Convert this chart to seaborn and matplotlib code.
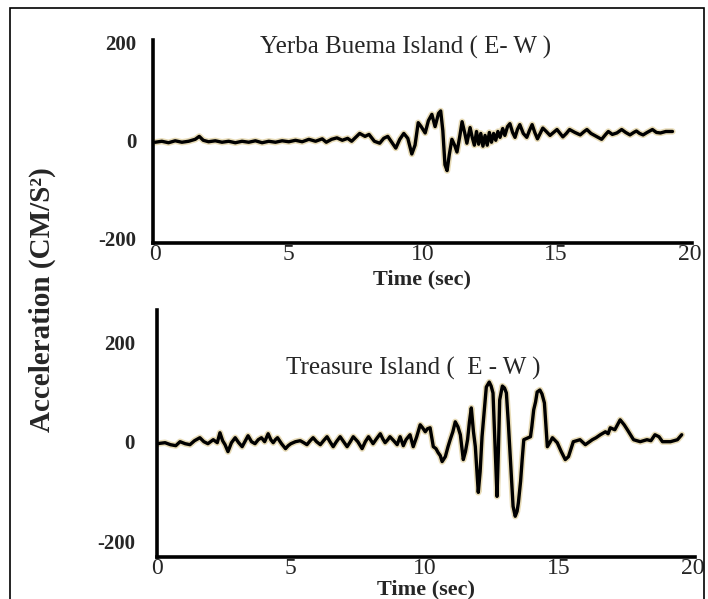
import matplotlib
matplotlib.use("Agg")
import matplotlib.pyplot as plt
from matplotlib import patheffects as pe
from matplotlib.patches import Rectangle
import pandas as pd
import seaborn as sns

# Yerba Buena Island (E-W) accelerogram: time (s), acceleration (cm/s^2)
yb_time = [0.0, 0.25, 0.5, 0.75, 1.0, 1.25, 1.5, 1.65, 1.8, 2.0,
           2.25, 2.5, 2.75, 3.0, 3.25, 3.5, 3.75, 4.0, 4.25, 4.5,
           4.75, 5.0, 5.25, 5.5, 5.75, 6.0, 6.25, 6.4, 6.6, 6.8,
           7.0, 7.2, 7.35, 7.5, 7.65, 7.85, 8.0, 8.2, 8.4, 8.55,
           8.7, 8.85, 9.0, 9.15, 9.3, 9.45, 9.6, 9.72, 9.84, 9.95,
           10.1, 10.22, 10.35, 10.47, 10.6, 10.68, 10.76, 10.84, 10.92, 11.0,
           11.1, 11.2, 11.29, 11.4, 11.48, 11.58, 11.66, 11.78, 11.86, 11.94,
           12.02, 12.1, 12.18, 12.26, 12.34, 12.42, 12.5, 12.58, 12.66, 12.74,
           12.82, 12.9, 13.0, 13.08, 13.18, 13.27, 13.37, 13.46, 13.55, 13.64,
           13.77, 13.9, 14.0, 14.1, 14.2, 14.3, 14.4, 14.5, 14.63, 14.77,
           14.9, 15.03, 15.15, 15.25, 15.38, 15.5, 15.7, 15.9, 16.05, 16.15,
           16.3, 16.5, 16.7, 16.85, 16.95, 17.1, 17.27, 17.45, 17.6, 17.76,
           17.9, 18.0, 18.12, 18.25, 18.4, 18.6, 18.75, 18.9, 19.1, 19.35]
yb_accel = [-4, -2, -5, -1, -4, -2, 2, 8, 0, -3,
            -1, -4, -2, -5, -2, -4, -1, -5, -2, -4,
            -1, -3, 0, -3, 2, -2, 3, -4, 2, 5,
            0, 4, -2, 6, 14, 8, 12, -2, -6, 4,
            8, -4, -16, 2, 14, 4, -28, -10, 36, 28,
            15, 40, 53, 28, 55, 60, 20, -50, -62, -30,
            2, -10, -24, 10, 38, 15, -6, 26, 6, -10,
            18, -8, 14, -12, 10, -10, 16, -4, 14, 0,
            18, 6, 24, 10, 28, 34, 16, 6, 22, 32,
            14, 6, 20, 32, 16, 3, 14, 25, 18, 10,
            16, 22, 14, 7, 14, 22, 16, 11, 18, 22,
            14, 8, 2, 12, 18, 12, 15, 22, 16, 11,
            16, 19, 14, 11, 16, 22, 16, 15, 18, 18]

# Treasure Island (E-W) accelerogram: time (s), acceleration (cm/s^2)
ti_time = [0.0, 0.3, 0.5, 0.7, 0.86, 1.05, 1.23, 1.4, 1.6, 1.75,
           1.9, 2.1, 2.25, 2.35, 2.45, 2.54, 2.65, 2.78, 2.92, 3.05,
           3.18, 3.3, 3.4, 3.53, 3.66, 3.78, 3.9, 4.02, 4.15, 4.25,
           4.34, 4.42, 4.5, 4.65, 4.8, 4.9, 5.0, 5.17, 5.35, 5.48,
           5.6, 5.72, 5.83, 5.96, 6.1, 6.22, 6.35, 6.46, 6.58, 6.7,
           6.84, 6.97, 7.1, 7.22, 7.33, 7.5, 7.66, 7.78, 7.9, 8.0,
           8.07, 8.2, 8.34, 8.43, 8.52, 8.62, 8.7, 8.84, 8.97, 9.08,
           9.2, 9.3, 9.45, 9.57, 9.7, 9.83, 9.92, 10.02, 10.1, 10.2,
           10.32, 10.42, 10.5, 10.58, 10.65, 10.77, 10.87, 10.95, 11.05, 11.14,
           11.24, 11.33, 11.44, 11.52, 11.6, 11.67, 11.74, 11.82, 11.89, 11.95,
           12.0, 12.07, 12.14, 12.22, 12.3, 12.41, 12.48, 12.55, 12.62, 12.7,
           12.75, 12.8, 12.9, 12.98, 13.05, 13.12, 13.2, 13.3, 13.38, 13.45,
           13.5, 13.58, 13.64, 13.7, 13.87, 13.95, 14.0, 14.07, 14.14, 14.2,
           14.3, 14.38, 14.47, 14.58, 14.67, 14.77, 14.95, 15.1, 15.25, 15.37,
           15.55, 15.8, 16.0, 16.26, 16.4, 16.56, 16.75, 16.85, 16.93, 17.1,
           17.3, 17.45, 17.57, 17.8, 18.05, 18.3, 18.45, 18.6, 18.75, 18.88,
           19.18, 19.44, 19.6]
ti_accel = [-4, -2, -6, -8, 0, -4, -6, 2, 8, 0,
            -4, 4, -2, 18, 2, -6, -20, -2, 8, -2,
            -10, 2, 12, 0, -4, 4, 8, 0, 16, 4,
            -2, 4, 8, -4, -14, -8, -4, 0, 2, -2,
            -6, 2, 8, 0, -6, 2, 10, 0, -10, 0,
            10, 0, -10, 0, 10, 0, -14, 0, 10, 2,
            -4, 6, 16, 6, -2, 4, 10, 2, -6, 10,
            -8, 4, 14, -10, 10, 34, 28, 20, 26, 28,
            -10, -14, -22, -28, -40, -30, -10, 4, 20, 40,
            30, 14, -36, -20, 4, 40, 68, 20, -10, -60,
            -102, -60, 10, 60, 110, 120, 112, 98, 0, -110,
            -20, 84, 112, 108, 98, 40, -36, -130, -150, -140,
            -122, -80, -36, 4, 8, 10, 30, 64, 80, 100,
            104, 96, 78, -10, -2, 8, -2, -20, -36, -30,
            0, 4, -6, 4, 8, 14, 20, 16, 28, 24,
            44, 34, 24, 4, 0, 4, 2, 14, 10, 0,
            0, 4, 14]

x_ticks = [0, 5, 10, 15, 20]
y_ticks = [-200, 0, 200]
y_tick_labels = ["-200", "0", "200"]
titles = ["Yerba Buema Island ( E- W )", "Treasure Island (  E - W )"]
x_label = "Time (sec)"
y_label = "Acceleration (CM/S\u00b2)"

sns.set_style("white")
plt.rcParams["font.family"] = ["Liberation Serif", "DejaVu Serif"]

fig = plt.figure(figsize=(7.08, 5.99), dpi=100)
ax_top = fig.add_axes([0.2161, 0.5943, 0.7613, 0.3389])
ax_bot = fig.add_axes([0.2218, 0.0701, 0.7600, 0.4124])

halo = [pe.Stroke(linewidth=4.6, foreground="#d8c488", alpha=0.6), pe.Normal()]

panels = [
    (ax_top, yb_time, yb_accel, (-0.08, 20.08), (-210, 205), (0.468, 0.965), 3),
    (ax_bot, ti_time, ti_accel, (0.0, 20.1), (-232, 265), (0.476, 0.765), 0),
]

for (ax, t, acc, xlim, ylim, title_xy, lpad), title in zip(panels, titles):
    df = pd.DataFrame({"time": t, "accel": acc})
    sns.lineplot(data=df, x="time", y="accel", ax=ax, color="black",
                 linewidth=2.4, sort=False, estimator=None)
    for ln in ax.get_lines():
        ln.set_path_effects(halo)
        ln.set_solid_joinstyle("round")
    ax.set_xlim(*xlim)
    ax.set_ylim(*ylim)
    for side in ("top", "right"):
        ax.spines[side].set_visible(False)
    for side in ("left", "bottom"):
        ax.spines[side].set_color("black")
        ax.spines[side].set_linewidth(2.6)
    ax.set_xticks(x_ticks)
    ax.set_xticklabels([str(v) for v in x_ticks])
    ax.set_yticks(y_ticks)
    ax.set_yticklabels(y_tick_labels)
    ax.tick_params(axis="x", length=0, pad=1, labelsize=17)
    ax.tick_params(axis="y", length=0, pad=12, labelsize=15)
    for lab in ax.get_yticklabels():
        lab.set_fontweight("bold")
    ax.set_xlabel(x_label, fontsize=16, fontweight="bold", labelpad=lpad)
    ax.set_ylabel("")
    ax.text(*title_xy, title, transform=ax.transAxes, ha="center",
            va="center", fontsize=18)

# small inward tick at +200 on the lower panel only
ax_bot.tick_params(axis="y", direction="in", length=10, width=2.2, pad=16)
for tick, val in zip(ax_bot.yaxis.get_major_ticks(), y_ticks):
    if val != 200:
        tick.tick1line.set_visible(False)

fig.text(0.060, 0.50, y_label, rotation=90, ha="center", va="center",
         fontsize=21, fontweight="bold")

fig.patches.append(Rectangle((10 / 708, -0.02), (704 - 10) / 708, 1.02 - 8 / 599,
                             transform=fig.transFigure, fill=False,
                             lw=1.2, ec="black"))

fig.savefig("out.png", dpi=100, facecolor="white")
